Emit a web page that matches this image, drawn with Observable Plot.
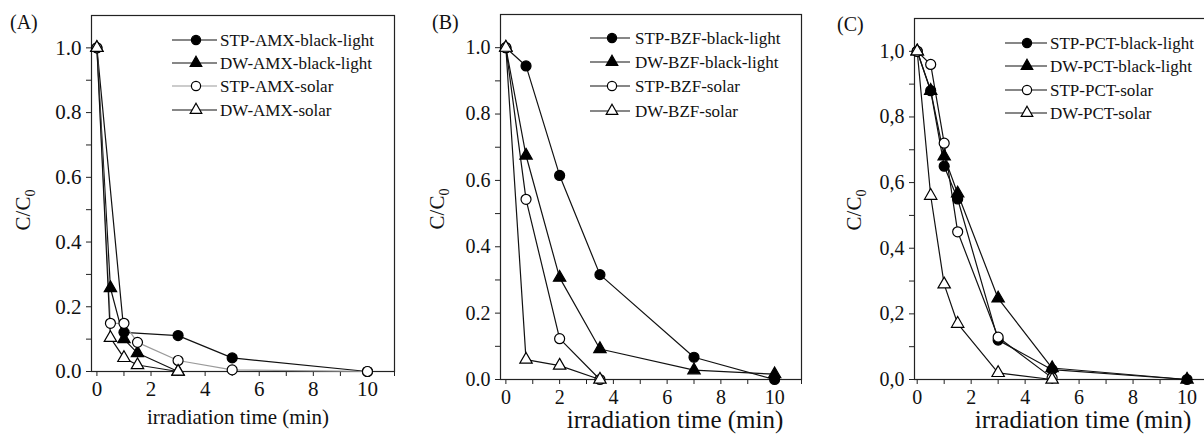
<!DOCTYPE html>
<html><head><meta charset="utf-8">
<script src="https://cdn.jsdelivr.net/npm/d3@7"></script>
<script src="https://cdn.jsdelivr.net/npm/@observablehq/plot@0.6"></script>
<style>
body{margin:0;background:#fff;overflow:hidden;}
#wrap{position:relative;width:1204px;height:434px;overflow:hidden;background:#fff;}
.panel{position:absolute;top:0;}
.panel svg{max-width:none !important;}
.panel svg text{font-family:'Liberation Serif','Times New Roman',serif !important;}
</style></head><body><div id="wrap"></div>
<script>
// ---------- data ----------
const panelLetters = ["(A)", "(B)", "(C)"];
const drugs = ["AMX", "BZF", "PCT"];
const xLabel = "irradiation time (min)";
const xTicks = [0, 1, 2, 3, 4, 5, 6, 7, 8, 9, 10, 11];
const yTicks = [0, 0.1, 0.2, 0.3, 0.4, 0.5, 0.6, 0.7, 0.8, 0.9, 1.0];

// Panel A – AMX
const amxStpBlackT = [0, 1, 3, 5, 10];
const amxStpBlackC = [1.0, 0.121, 0.111, 0.042, 0.0];
const amxDwBlackT = [0, 0.5, 1, 1.5, 3];
const amxDwBlackC = [1.0, 0.258, 0.10, 0.057, 0.0];
const amxStpSolarT = [0, 0.5, 1, 1.5, 3, 5, 10];
const amxStpSolarC = [1.0, 0.149, 0.149, 0.09, 0.034, 0.005, 0.0];
const amxDwSolarT = [0, 0.5, 1, 1.5, 3];
const amxDwSolarC = [1.0, 0.104, 0.042, 0.02, 0.0];

// Panel B – BZF
const bzfStpBlackT = [0, 0.75, 2, 3.5, 7, 10];
const bzfStpBlackC = [1.0, 0.945, 0.615, 0.316, 0.067, 0.0];
const bzfDwBlackT = [0, 0.75, 2, 3.5, 7, 10];
const bzfDwBlackC = [1.0, 0.675, 0.307, 0.092, 0.028, 0.016];
const bzfStpSolarT = [0, 0.75, 2, 3.5];
const bzfStpSolarC = [1.0, 0.543, 0.123, 0.0];
const bzfDwSolarT = [0, 0.75, 2, 3.5];
const bzfDwSolarC = [1.0, 0.06, 0.042, 0.0];

// Panel C – PCT
const pctStpBlackT = [0, 0.5, 1, 1.5, 3, 5, 10];
const pctStpBlackC = [1.0, 0.88, 0.65, 0.55, 0.12, 0.03, 0.0];
const pctDwBlackT = [0, 0.5, 1, 1.5, 3, 5, 10];
const pctDwBlackC = [1.0, 0.88, 0.68, 0.567, 0.247, 0.035, 0.0];
const pctStpSolarT = [0, 0.5, 1, 1.5, 3, 5];
const pctStpSolarC = [1.0, 0.96, 0.72, 0.45, 0.129, 0.005];
const pctDwSolarT = [0, 0.5, 1, 1.5, 3, 5];
const pctDwSolarC = [1.0, 0.56, 0.29, 0.17, 0.02, 0.0];

const seriesSuffix = ["black-light", "black-light", "solar", "solar"];
const seriesPrefix = ["STP", "DW", "STP", "DW"];
const seriesSymbol = ["circle", "triangle", "circle", "triangle"];
const seriesFilled = [true, true, false, false];

const panelData = [
  [[amxStpBlackT, amxStpBlackC], [amxDwBlackT, amxDwBlackC], [amxStpSolarT, amxStpSolarC], [amxDwSolarT, amxDwSolarC]],
  [[bzfStpBlackT, bzfStpBlackC], [bzfDwBlackT, bzfDwBlackC], [bzfStpSolarT, bzfStpSolarC], [bzfDwSolarT, bzfDwSolarC]],
  [[pctStpBlackT, pctStpBlackC], [pctDwBlackT, pctDwBlackC], [pctStpSolarT, pctStpSolarC], [pctDwSolarT, pctDwSolarC]]
];

// ---------- layout ----------
const FONT = "'Liberation Serif','Times New Roman',serif";
const layout = [
  {left: 0,   width: 400, ml: 91,  mr: 6,   mt: 15, mb: 63, xd: [-0.2, 11], dec: ".", tickFont: 21, lineColors: ["#111", "#111", "#9a9a9a", "#111"],
   leg: {lx: 103.5, hw: 22.5, mx: 105, tx: 129, rows: [25, 48, 71, 95]},
   letter: [10, 29], ylab: [23, 210], xlab: [238, 424, 21]},
  {left: 400, width: 403, ml: 100, mr: 2,   mt: 14, mb: 55, xd: [-0.2, 11], dec: ".", tickFont: 20, lineColors: ["#111", "#111", "#111", "#111"],
   leg: {lx: 110, hw: 20, mx: 112, tx: 135, rows: [24, 48, 72, 97]},
   letter: [32, 29], ylab: [37, 209], xlab: [275, 428, 25]},
  {left: 805, width: 415, ml: 109, mr: 6.5, mt: 18, mb: 55, xd: [-0.1, 11], dec: ",", tickFont: 20, lineColors: ["#111", "#111", "#111", "#111"],
   leg: {lx: 112, hw: 21, mx: 113, tx: 136, rows: [25, 48, 72, 95]},
   letter: [32, 31], ylab: [49, 210], xlab: [278, 428, 25]}
];

const wrap = document.getElementById("wrap");

panelData.forEach((series, p) => {
  const L = layout[p];
  const names = seriesPrefix.map((s, i) => `${s}-${drugs[p]}-${seriesSuffix[i]}`);
  const rows = series.flatMap(([t, c], i) => t.map((x, k) => ({s: i, name: names[i], t: x, c: c[k]})));
  const fmtY = d => {
    const i = Math.round(d * 10);
    return i % 2 === 0 ? (i / 10).toFixed(1).replace(".", L.dec) : "";
  };
  const marks = [
    Plot.axisY(yTicks, {tickSize: 5, tickPadding: 5, tickFormat: fmtY, fontSize: L.tickFont, label: null, stroke: "#222", fill: "#111", fontFamily: FONT}),
    Plot.axisX(xTicks, {tickSize: 5, tickPadding: 5, tickFormat: d => (d % 2 === 0 && d <= 10 ? String(d) : ""), fontSize: L.tickFont, label: null, stroke: "#222", fill: "#111", fontFamily: FONT}),
    Plot.frame({stroke: "#222", strokeWidth: 1.2})
  ];
  series.forEach((_, i) => {
    marks.push(Plot.line(rows.filter(r => r.s === i), {x: "t", y: "c", stroke: L.lineColors[i], strokeWidth: 1.2}));
  });
  series.forEach((_, i) => {
    marks.push(Plot.dot(rows.filter(r => r.s === i), {
      x: "t", y: "c", symbol: seriesSymbol[i], r: seriesSymbol[i] === "circle" ? 5 : 4.6,
      fill: seriesFilled[i] ? "#000" : "#fff", stroke: "#000", strokeWidth: 1.2
    }));
  });
  const chart = Plot.plot({
    width: L.width, height: 434,
    marginLeft: L.ml, marginRight: L.mr, marginTop: L.mt, marginBottom: L.mb,
    x: {domain: L.xd}, y: {domain: [0, 1.1]},
    style: `font-family: ${FONT}; background: transparent; color: #111; overflow: visible; max-width: none;`,
    marks
  });
  const div = document.createElement("div");
  div.className = "panel";
  div.style.left = L.left + "px";
  div.style.width = L.width + "px";
  div.appendChild(chart);
  wrap.appendChild(div);

  const svg = d3.select(chart);
  // panel letter
  svg.append("text").attr("x", L.letter[0]).attr("y", L.letter[1]).attr("text-anchor", "start")
    .attr("font-family", FONT).attr("font-size", 20).attr("fill", "#111").text(panelLetters[p]);
  // y label
  const yl = svg.append("text").attr("transform", `translate(${L.ylab[0]},${L.ylab[1]}) rotate(-90)`)
    .attr("text-anchor", "middle").attr("dy", "0.35em")
    .attr("font-family", FONT).attr("font-size", 21).attr("fill", "#111");
  yl.append("tspan").text("C/C");
  yl.append("tspan").attr("dy", "0.3em").attr("font-size", 14).text("0");
  // x label
  svg.append("text").attr("x", L.xlab[0]).attr("y", L.xlab[1]).attr("text-anchor", "middle")
    .attr("font-family", FONT).attr("font-size", L.xlab[2]).attr("fill", "#111").text(xLabel);
  // legend
  const g = svg.append("g").attr("transform", `translate(${L.ml},${L.mt})`);
  names.forEach((nm, i) => {
    const y = L.leg.rows[i];
    g.append("line").attr("x1", L.leg.lx - L.leg.hw).attr("x2", L.leg.lx + L.leg.hw)
      .attr("y1", y).attr("y2", y).attr("stroke", L.lineColors[i]).attr("stroke-width", 1.2);
    const r = seriesSymbol[i] === "circle" ? 4.6 : 4.3;
    g.append("path").attr("transform", `translate(${L.leg.mx},${y})`)
      .attr("d", d3.symbol().type(seriesSymbol[i] === "circle" ? d3.symbolCircle : d3.symbolTriangle).size(Math.PI * r * r)())
      .attr("fill", seriesFilled[i] ? "#000" : "#fff").attr("stroke", "#000").attr("stroke-width", 1.2);
    g.append("text").attr("x", L.leg.tx).attr("y", y).attr("dy", "0.35em").attr("text-anchor", "start")
      .attr("font-family", FONT).attr("font-size", 17).attr("fill", "#111").text(nm);
  });
  svg.selectAll("text").style("font-family", FONT);
});
</script></body></html>
